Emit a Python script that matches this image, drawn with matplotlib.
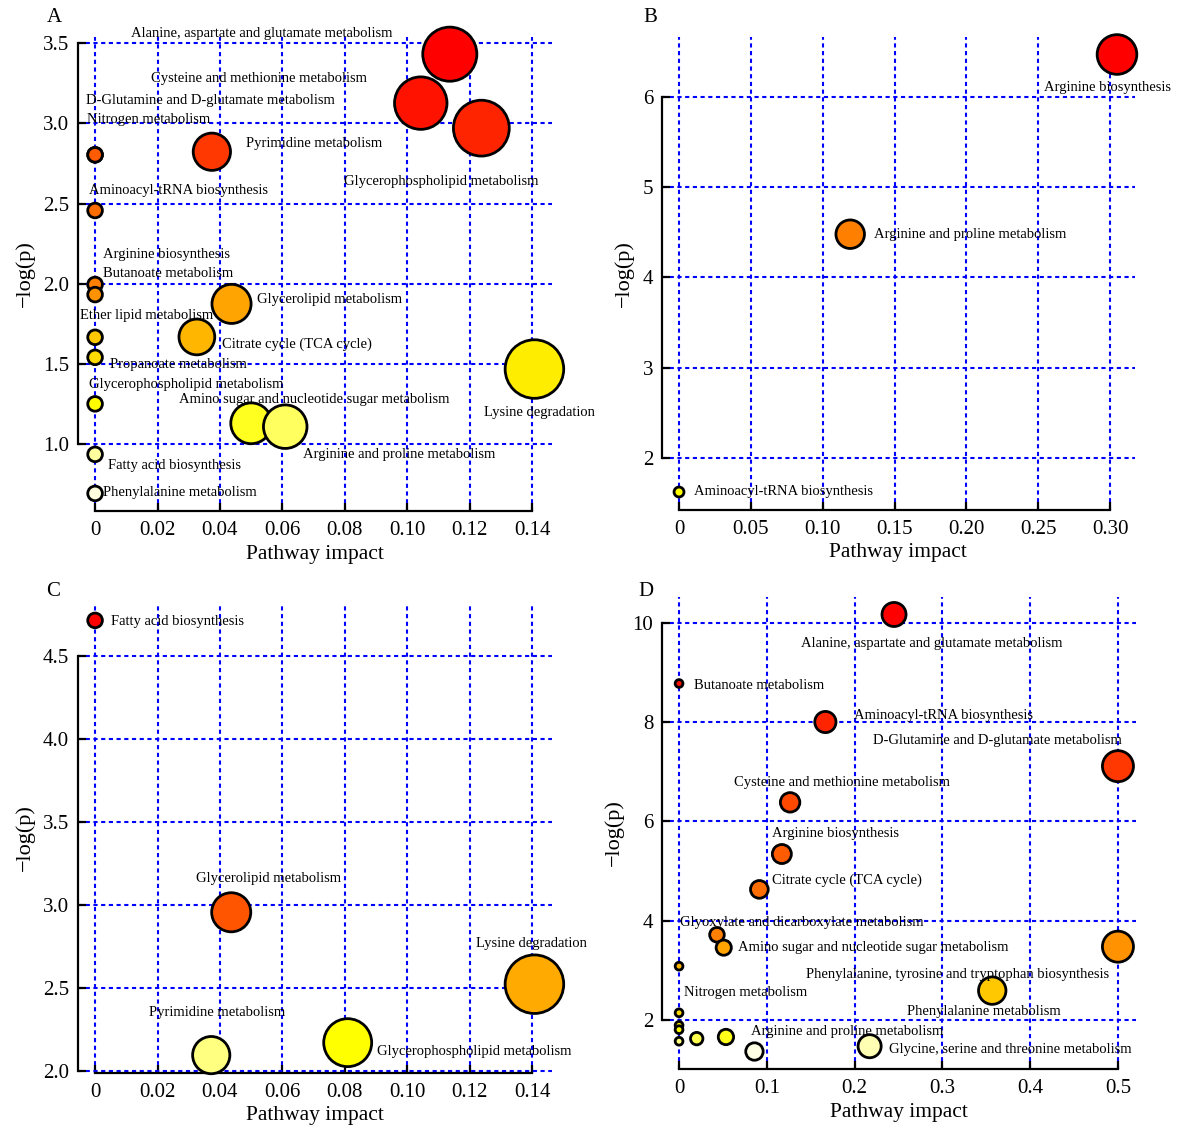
import colorsys
import numpy as np
import matplotlib
matplotlib.use("Agg")
import matplotlib.pyplot as plt
from matplotlib.patches import Ellipse

plt.rcParams['font.family'] = ['Liberation Serif', 'DejaVu Serif']

# ---------------- data ----------------
# Panel A
a_names = ["Alanine, aspartate and glutamate metabolism",
           "Cysteine and methionine metabolism",
           "Glycerophospholipid metabolism",
           "Pyrimidine metabolism",
           "Nitrogen metabolism",
           "D-Glutamine and D-glutamate metabolism",
           "Aminoacyl-tRNA biosynthesis",
           "Arginine biosynthesis",
           "Butanoate metabolism",
           "Glycerolipid metabolism",
           "Citrate cycle (TCA cycle)",
           "Ether lipid metabolism",
           "Propanoate metabolism",
           "Lysine degradation",
           "Glycerophospholipid metabolism",
           "Amino sugar and nucleotide sugar metabolism",
           "Arginine and proline metabolism",
           "Fatty acid biosynthesis",
           "Phenylalanine metabolism"]
a_impact = [0.1136, 0.1043, 0.1237, 0.0374, 0.0, 0.0, 0.0, 0.0, 0.0, 0.0437,
            0.0326, 0.0, 0.0, 0.1407, 0.0, 0.0500, 0.0609, 0.0, 0.0]
a_logp = [3.431, 3.126, 2.970, 2.823, 2.804, 2.804, 2.457, 1.996, 1.933, 1.875,
          1.669, 1.667, 1.542, 1.469, 1.252, 1.131, 1.110, 0.9375, 0.694]
a_xticks = [0, 0.02, 0.04, 0.06, 0.08, 0.10, 0.12, 0.14]
a_xticklabels = ["0", "0.02", "0.04", "0.06", "0.08", "0.10", "0.12", "0.14"]
a_yticks = [1.0, 1.5, 2.0, 2.5, 3.0, 3.5]
a_yticklabels = ["1.0", "1.5", "2.0", "2.5", "3.0", "3.5"]

# Panel B
b_names = ["Arginine biosynthesis", "Arginine and proline metabolism",
           "Aminoacyl-tRNA biosynthesis"]
b_impact = [0.3047, 0.1191, 0.0]
b_logp = [6.47, 4.479, 1.623]
b_xticks = [0, 0.05, 0.10, 0.15, 0.20, 0.25, 0.30]
b_xticklabels = ["0", "0.05", "0.10", "0.15", "0.20", "0.25", "0.30"]
b_yticks = [2, 3, 4, 5, 6]
b_yticklabels = ["2", "3", "4", "5", "6"]

# Panel C
c_names = ["Fatty acid biosynthesis", "Glycerolipid metabolism",
           "Lysine degradation", "Glycerophospholipid metabolism",
           "Pyrimidine metabolism"]
c_impact = [0.0, 0.0436, 0.1407, 0.0809, 0.0372]
c_logp = [4.7135, 2.956, 2.523, 2.171, 2.096]
c_xticks = [0, 0.02, 0.04, 0.06, 0.08, 0.10, 0.12, 0.14]
c_xticklabels = ["0", "0.02", "0.04", "0.06", "0.08", "0.10", "0.12", "0.14"]
c_yticks = [2.0, 2.5, 3.0, 3.5, 4.0, 4.5]
c_yticklabels = ["2.0", "2.5", "3.0", "3.5", "4.0", "4.5"]

# Panel D
d_names = ["Alanine, aspartate and glutamate metabolism",
           "Butanoate metabolism",
           "Aminoacyl-tRNA biosynthesis",
           "D-Glutamine and D-glutamate metabolism",
           "Cysteine and methionine metabolism",
           "Arginine biosynthesis",
           "Citrate cycle (TCA cycle)",
           "Glyoxylate and dicarboxylate metabolism",
           "Phenylalanine, tyrosine and tryptophan biosynthesis",
           "Amino sugar and nucleotide sugar metabolism",
           "Nitrogen metabolism",
           "Phenylalanine metabolism",
           "", "", "",
           "Arginine and proline metabolism",
           "", "",
           "Glycine, serine and threonine metabolism",
           ""]
d_impact = [0.2449, 0.0, 0.1667, 0.5, 0.1265, 0.1171, 0.0915, 0.0432, 0.5, 0.0509,
            0.0, 0.3568, 0.0, 0.0, 0.0, 0.0534, 0.0201, 0.0, 0.2171, 0.0859]
d_logp = [10.167, 8.776, 8.0, 7.11, 6.381, 5.34, 4.627, 3.713, 3.473, 3.453,
          3.08, 2.587, 2.14, 1.887, 1.80, 1.653, 1.62, 1.567, 1.467, 1.36]
d_xticks = [0, 0.1, 0.2, 0.3, 0.4, 0.5]
d_xticklabels = ["0", "0.1", "0.2", "0.3", "0.4", "0.5"]
d_yticks = [2, 4, 6, 8, 10]
d_yticklabels = ["2", "4", "6", "8", "10"]

# ---------------- layout (label anchor positions, data coords) ----------------
a_text_pos = [(0.01146, 3.569), (0.01785, 3.288), (0.0796, 2.648), (0.04823, 2.883),
              (-0.00265, 3.033), (-0.0030, 3.151), (-0.00205, 2.590), (0.00241, 2.191),
              (0.00241, 2.073), (0.0519, 1.9125), (0.0406, 1.631), (-0.0048, 1.8125),
              (0.0048, 1.506), (0.1246, 1.208), (-0.0020, 1.381), (0.0269, 1.2875),
              (0.0667, 0.944), (0.0040, 0.875), (0.00265, 0.7104)]
b_text_pos = [(0.2541, 6.12), (0.1355, 4.487), (0.0107, 1.647)]
c_text_pos = [(0.0052, 4.7135), (0.0322, 3.166), (0.1219, 2.779), (0.0902, 2.124),
              (0.0173, 2.359)]
d_text_pos = [(0.1389, 9.619), (0.0175, 8.776), (0.1991, 8.161), (0.2214, 7.659),
              (0.0624, 6.809), (0.1060, 5.786), (0.1060, 4.853), (0.0013, 3.987),
              (0.1444, 2.947), (0.0675, 3.487), (0.0056, 2.573), (0.2598, 2.193),
              None, None, None, (0.0816, 1.787), None, None, (0.2397, 1.433), None]

W, H = 1179, 1131


def heat_colors(n):
    j = n // 4
    i = n - j
    cols = []
    for k in range(i):
        h = (1 / 6) * k / (i - 1) if i > 1 else 0.0
        cols.append(colorsys.hsv_to_rgb(h, 1, 1))
    if j > 0:
        for sv in np.linspace(1 - 1 / (2 * j), 1 / (2 * j), j):
            cols.append(colorsys.hsv_to_rgb(1 / 6, sv, 1))
    return cols


def draw_panel(rect_px, letter, letter_xy, names, impact, logp, text_pos,
               xticks, xtl, yticks, ytl):
    l, t, r, b = rect_px
    ax = fig.add_axes([l / W, 1 - b / H, (r - l) / W, (b - t) / H])
    x = np.asarray(impact, float)
    y = np.asarray(logp, float)
    xr = x.max() - x.min()
    yr = y.max() - y.min()
    ax.set_xlim(x.min() - 0.04 * xr, x.max() + 0.04 * xr)
    ax.set_ylim(y.min() - 0.04 * yr, y.max() + 0.04 * yr)

    # MetaboAnalyst-style radius (x units) and colours by rank
    sq = np.sqrt(x)
    mn, mx = sq.min(), sq.max()
    maxR = (mx - mn) / 40
    minR = (mx - mn) / 160
    rad = minR + (maxR - minR) * (sq - mn) / (mx - mn)
    order = np.argsort(-y, kind="stable")
    cols = heat_colors(len(y))
    bb = ax.get_window_extent()
    ppx = bb.width / (ax.get_xlim()[1] - ax.get_xlim()[0])
    ppy = bb.height / (ax.get_ylim()[1] - ax.get_ylim()[0])
    for rank, idx in enumerate(order):
        e = Ellipse((x[idx], y[idx]), 2 * rad[idx], 2 * rad[idx] * ppx / ppy,
                    facecolor=cols[rank], edgecolor='black', linewidth=2.0,
                    zorder=3 + rank * 0.01, clip_on=False)
        ax.add_patch(e)

    for name, pos in zip(names, text_pos):
        if pos is None or not name:
            continue
        ax.text(pos[0], pos[1], name, fontsize=10.5, ha='left',
                va='center_baseline', color='black', zorder=10, clip_on=False)

    ax.set_xticks(xticks)
    ax.set_xticklabels(xtl)
    ax.set_yticks(yticks)
    ax.set_yticklabels(ytl)
    ax.grid(True, color='#0000ff', linestyle=(0, (2.0, 1.7)), linewidth=1.5)
    ax.set_axisbelow(True)
    for s in ('top', 'right'):
        ax.spines[s].set_visible(False)
    ax.spines['left'].set_bounds(yticks[0], yticks[-1])
    ax.spines['bottom'].set_bounds(xticks[0], xticks[-1])
    for s in ('left', 'bottom'):
        ax.spines[s].set_linewidth(1.6)
    ax.tick_params(direction='in', length=5.5, width=1.6, labelsize=15)
    ax.tick_params(axis='y', pad=6)
    ax.tick_params(axis='x', pad=7.5)
    ax.set_xlabel('Pathway impact', fontsize=15.5, labelpad=3)
    ax.set_ylabel('\u2212log(p)', fontsize=16, labelpad=6)
    fig.text(letter_xy[0] / W, 1 - letter_xy[1] / H, letter, fontsize=15,
             ha='left', va='center')
    return ax


fig = plt.figure(figsize=(W / 100, H / 100), dpi=100)
draw_panel((77.5, 36.6, 552, 511), 'A', (47, 17), a_names, a_impact, a_logp,
           a_text_pos, a_xticks, a_xticklabels, a_yticks, a_yticklabels)
draw_panel((661.5, 37, 1134.5, 509.5), 'B', (643, 17), b_names, b_impact, b_logp,
           b_text_pos, b_xticks, b_xticklabels, b_yticks, b_yticklabels)
draw_panel((77.5, 603, 552, 1072.5), 'C', (46, 591), c_names, c_impact, c_logp,
           c_text_pos, c_xticks, c_xticklabels, c_yticks, c_yticklabels)
draw_panel((661.5, 597, 1135.5, 1069), 'D', (638, 592), d_names, d_impact, d_logp,
           d_text_pos, d_xticks, d_xticklabels, d_yticks, d_yticklabels)

fig.savefig('out.png', dpi=100)
